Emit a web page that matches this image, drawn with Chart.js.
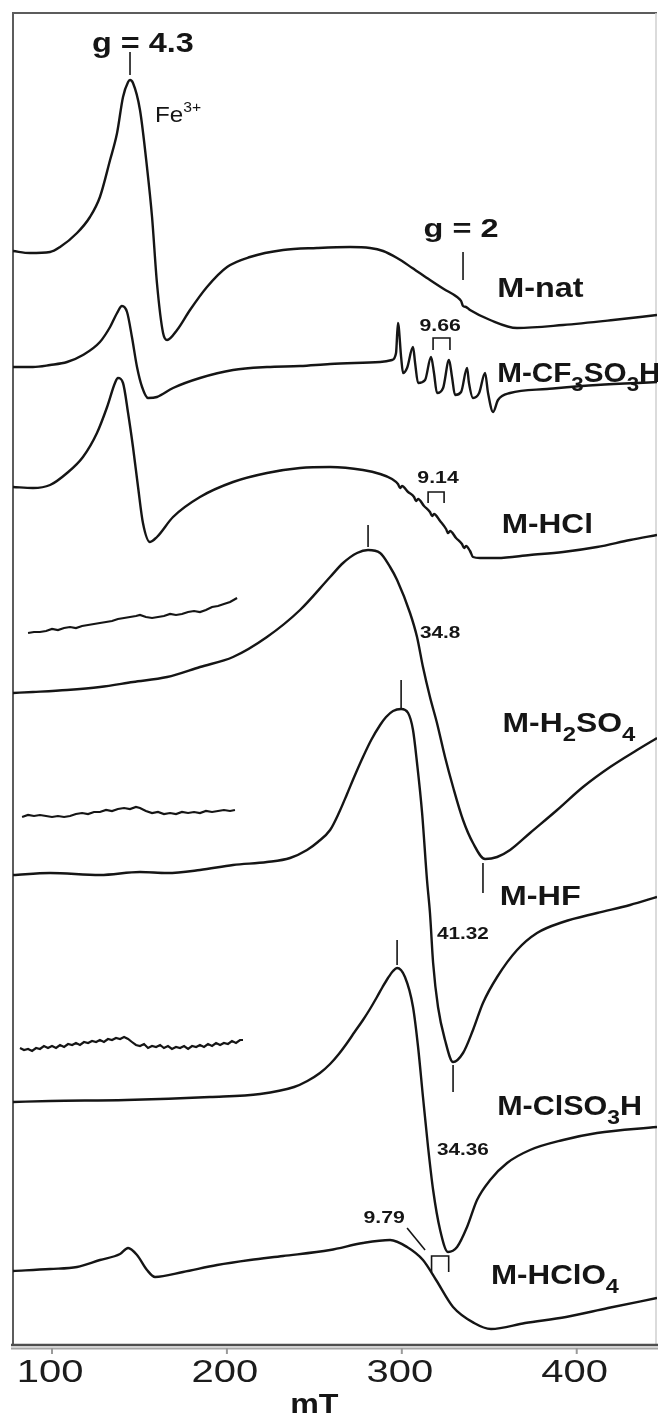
<!DOCTYPE html>
<html>
<head>
<meta charset="utf-8">
<title>EPR spectra of treated M samples</title>
<script src="https://cdn.jsdelivr.net/npm/chart.js@4.4.1/dist/chart.umd.min.js"></script>
<style>
  html, body { margin: 0; padding: 0; background: #fff; }
  #wrap { width: 658px; height: 1423px; position: relative; }
</style>
</head>
<body>
<div id="wrap"><canvas id="epr"></canvas></div>
<script>
/* Stacked EPR derivative spectra, field in mT, signal in offset units
   (each trace already carries its own vertical offset). */

// M-nat
const natField  = [77.7, 87.4, 98.9, 104.6, 114.3, 121.7, 127.4, 133.2, 137.2, 140.6, 143.5, 144.6, 146.3, 150.3, 154.3, 157.2, 160.0, 163.5, 165.8, 171.5, 178.9, 188.6, 200.1, 213.2, 232.1, 251.5, 270.4, 281.8, 289.3, 297.3, 306.0, 316.1, 324.0, 331.6, 333.9, 335.0, 336.7, 339.0, 350.5, 365.9, 392.2, 420.8, 445.9];
const natSignal = [1094, 1092, 1093, 1098, 1112, 1128, 1148, 1185, 1212, 1248, 1263, 1265, 1262, 1235, 1178, 1128, 1062, 1012, 1005, 1015, 1035, 1058, 1078, 1088, 1095, 1097, 1098, 1097, 1094, 1087, 1077, 1065, 1056, 1048, 1044, 1039, 1038, 1035, 1025, 1017, 1020, 1025, 1030];

// M-CF3SO3H (Mn2+ sextet on the right)
const triflField  = [77.7, 89.1, 98.9, 108.6, 117.7, 127.4, 133.2, 137.2, 140.0, 142.9, 145.7, 148.6, 151.5, 154.9, 160.0, 169.2, 184.6, 203.5, 222.9, 241.8, 259.0, 287.6, 294.4, 296.7, 297.8, 299.6, 300.7, 303.0, 306.4, 307.6, 309.3, 313.3, 316.7, 318.4, 320.1, 323.6, 327.0, 328.7, 330.4, 333.9, 337.3, 338.4, 340.7, 344.2, 347.6, 349.3, 352.2, 355.0, 361.9, 383.0, 411.6, 445.9];
const triflSignal = [978, 978, 980, 983, 990, 1003, 1018, 1032, 1039, 1033, 1008, 978, 958, 947, 948, 957, 967, 975, 978, 979, 981, 983, 985, 992, 1022, 988, 972, 977, 998, 982, 962, 965, 988, 972, 952, 957, 985, 968, 950, 953, 977, 962, 947, 952, 972, 952, 933, 945, 952, 956, 960, 963];

// M-HCl
const hclField  = [77.7, 89.1, 98.9, 108.6, 117.7, 125.7, 131.5, 136.0, 137.7, 140.6, 143.5, 146.3, 149.2, 152.0, 156.0, 160.0, 169.2, 184.6, 203.5, 222.9, 241.8, 259.0, 277.8, 287.6, 294.4, 297.8, 299.0, 300.1, 303.6, 307.0, 308.1, 309.3, 312.7, 316.1, 317.3, 318.4, 321.9, 325.3, 326.4, 327.6, 331.0, 334.4, 335.6, 336.7, 339.0, 340.7, 344.7, 354.5, 373.3, 392.2, 411.6, 430.5, 445.9];
const hclSignal = [858, 857, 860, 872, 888, 912, 938, 962, 967, 962, 932, 898, 858, 822, 803, 808, 828, 848, 863, 872, 877, 878, 875, 871, 866, 861, 857, 859, 853, 848, 844, 846, 839, 833, 829, 831, 824, 816, 812, 814, 807, 801, 797, 799, 794, 788, 787, 787, 790, 793, 798, 805, 810];

// low-field segment recorded at higher gain, M-H2SO4
const sulfNoiseField  = [86.3, 89.7, 93.1, 96.6, 100.0, 103.4, 106.9, 110.3, 113.7, 117.2, 120.6, 124.0, 127.4, 130.9, 134.3, 137.7, 141.2, 144.6, 148.0, 150.3, 153.7, 157.2, 160.6, 164.0, 167.5, 170.9, 174.3, 177.8, 181.2, 184.6, 188.0, 191.5, 194.9, 198.3, 201.8, 205.8];
const sulfNoiseSignal = [712, 713, 713, 714, 716, 715, 717, 718, 717, 719, 720, 721, 722, 723, 724, 726, 727, 728, 729, 730, 728, 727, 728, 729, 731, 730, 731, 733, 734, 733, 735, 738, 739, 741, 743, 747];

// M-H2SO4
const sulfField  = [77.7, 89.1, 108.6, 127.4, 146.3, 165.8, 184.6, 203.5, 222.9, 241.8, 259.0, 266.4, 274.4, 280.7, 287.6, 293.3, 297.3, 304.7, 308.7, 312.1, 316.1, 320.1, 324.7, 329.3, 335.0, 340.7, 347.6, 354.5, 361.9, 373.3, 388.8, 403.6, 419.1, 434.5, 445.9];
const sulfSignal = [652, 653, 655, 658, 663, 668, 678, 688, 708, 735, 768, 782, 792, 795, 792, 778, 765, 732, 708, 678, 648, 622, 588, 558, 525, 502, 486, 488, 495, 512, 535, 558, 578, 595, 607];

// low-field segment, M-HF
const hfNoiseField  = [82.9, 86.3, 89.7, 93.1, 96.6, 100.0, 103.4, 106.9, 110.3, 113.7, 117.2, 120.6, 124.0, 127.4, 130.9, 134.3, 137.7, 141.2, 144.6, 148.0, 150.3, 153.7, 157.2, 160.6, 164.0, 167.5, 170.9, 174.3, 177.8, 181.2, 184.6, 188.0, 191.5, 194.9, 198.3, 201.8, 204.6];
const hfNoiseSignal = [528, 530, 529, 530, 529, 528, 529, 528, 529, 531, 532, 531, 533, 533, 535, 534, 536, 537, 536, 538, 537, 534, 532, 533, 531, 532, 531, 533, 532, 533, 532, 534, 533, 534, 535, 534, 535];

// M-HF
const hfField  = [77.7, 98.9, 127.4, 150.3, 165.8, 184.6, 203.5, 222.9, 236.1, 245.8, 252.0, 259.0, 264.0, 268.7, 273.0, 277.8, 282.5, 287.6, 291.0, 295.0, 299.6, 303.6, 306.4, 308.7, 311.6, 314.4, 316.1, 317.9, 320.7, 324.7, 329.3, 335.0, 340.7, 346.4, 354.5, 365.9, 377.3, 392.2, 411.6, 430.5, 445.9];
const hfSignal = [470, 472, 470, 473, 472, 475, 480, 483, 487, 495, 503, 515, 532, 551, 569, 588, 605, 620, 628, 634, 636, 632, 615, 582, 532, 465, 432, 382, 338, 305, 283, 292, 315, 342, 368, 395, 412, 423, 432, 440, 448];

// low-field segment, M-ClSO3H
const clsNoiseField  = [81.7, 84.0, 86.3, 88.6, 90.9, 93.1, 95.4, 97.7, 100.0, 102.3, 104.6, 106.9, 109.2, 111.5, 113.7, 116.0, 118.3, 120.6, 122.9, 125.2, 127.4, 129.7, 132.0, 134.3, 136.6, 138.9, 141.2, 143.5, 145.7, 148.0, 150.3, 152.6, 154.9, 157.2, 159.5, 161.8, 164.0, 166.3, 168.6, 170.9, 173.2, 175.5, 177.8, 180.1, 182.4, 184.6, 186.9, 189.2, 191.5, 193.8, 196.1, 198.3, 200.6, 202.9, 205.2, 207.5, 209.2];
const clsNoiseSignal = [297, 295, 296, 294, 297, 296, 299, 297, 299, 297, 300, 298, 301, 300, 302, 300, 303, 302, 304, 303, 305, 303, 306, 305, 307, 306, 308, 306, 303, 300, 299, 301, 297, 299, 298, 300, 297, 299, 296, 298, 297, 299, 296, 299, 298, 300, 298, 301, 299, 302, 300, 302, 301, 304, 302, 305, 305];

// M-ClSO3H
const clsField  = [77.7, 98.9, 142.3, 190.3, 219.0, 238.4, 246.0, 253.2, 259.0, 264.0, 268.7, 273.0, 277.8, 281.8, 285.8, 289.0, 292.1, 295.0, 297.3, 301.8, 306.4, 309.3, 312.1, 315.0, 317.9, 321.9, 326.4, 331.6, 337.3, 343.0, 350.5, 360.2, 373.3, 392.2, 411.6, 445.9];
const clsSignal = [243, 244, 245, 248, 251, 258, 264, 272, 281, 291, 302, 313, 325, 336, 348, 358, 367, 374, 377, 368, 338, 298, 248, 198, 155, 115, 93, 98, 118, 145, 165, 182, 195, 205, 212, 218];

// M-HClO4
const perField  = [77.7, 98.9, 114.3, 127.4, 138.9, 143.5, 148.6, 154.3, 158.9, 174.9, 194.4, 213.2, 232.1, 259.0, 277.8, 293.3, 303.0, 312.1, 319.6, 329.3, 341.3, 351.0, 370.5, 393.9, 417.9, 445.9];
const perSignal = [74, 76, 78, 85, 91, 97, 90, 75, 68, 73, 80, 85, 89, 95, 102, 105, 98, 85, 65, 38, 22, 16, 22, 28, 37, 47];

// axis
const fieldTicks = [100, 200, 300, 400];
const fieldMin = 77.7;
const fieldMax = 445.9;

// vertical markers at line positions (field, signal from, signal to)
const markerField = [144.6, 335.0, 280.7, 346.4, 299.6, 329.3, 297.3];
const markerFrom  = [1270, 1065, 798, 452, 637, 253, 380];
const markerTo    = [1293, 1093, 820, 482, 665, 280, 405];

// hyperfine splittings, bracket width = stated value
const splitText   = ['9.66', '9.14', '9.79'];
const splitValue  = [9.66, 9.14, 9.79];
const splitCenter = [322.7, 319.6, 321.9];
const splitTop    = [1007, 853, 89];
const splitDrop   = [12, 11, 16];

// linewidths written next to the broad lines
const widthText   = ['34.8', '41.32', '34.36'];
const widthField  = [310.4, 320.1, 320.1];
const widthSignal = [707, 406, 190];

const FONT = '"Liberation Sans", Arial, Helvetica, sans-serif';
const INK = '#151515';

function xy(field, signal) {
    return field.map((f, i) => ({ x: f, y: signal[i] }));
}

function trace(field, signal, smooth) {
    return {
        data: xy(field, signal),
        borderColor: INK,
        borderWidth: smooth ? 2.4 : 2.2,
        pointRadius: 0,
        fill: false,
        tension: smooth ? 0.4 : 0,
        cubicInterpolationMode: smooth ? 'monotone' : 'default'
    };
}

// text with sub/superscripts, stretched horizontally by sx
function richText(ctx, parts, x, y, o) {
    const size = o.size;
    const weight = o.bold ? 'bold ' : '';
    const small = size * (o.subScale || 0.8);
    ctx.save();
    ctx.translate(x, y);
    ctx.scale(o.sx || 1, 1);
    ctx.fillStyle = o.color || INK;
    ctx.textAlign = 'left';
    ctx.textBaseline = 'alphabetic';
    let w = 0;
    parts.forEach(([t, k]) => {
        ctx.font = weight + (k ? small : size) + 'px ' + FONT;
        w += ctx.measureText(t).width;
    });
    let cx = o.align === 'center' ? -w / 2 : 0;
    parts.forEach(([t, k]) => {
        ctx.font = weight + (k ? small : size) + 'px ' + FONT;
        const dy = k === 1 ? size * 0.34 : (k === 2 ? -size * 0.45 : 0);
        ctx.fillText(t, cx, dy);
        cx += ctx.measureText(t).width;
    });
    ctx.restore();
}

function seg(ctx, x0, y0, x1, y1) {
    ctx.beginPath();
    ctx.moveTo(x0, y0);
    ctx.lineTo(x1, y1);
    ctx.stroke();
}

const sampleLabels = [
    { parts: [['M-nat', 0]], field: 354.5, signal: 1048, sx: 1.2 },
    { parts: [['M-CF', 0], ['3', 1], ['SO', 0], ['3', 1], ['H', 0]], field: 354.5, signal: 963, sx: 1.1 },
    { parts: [['M-HCl', 0]], field: 357.1, signal: 812, sx: 1.17 },
    { parts: [['M-H', 0], ['2', 1], ['SO', 0], ['4', 1]], field: 357.6, signal: 613, sx: 1.18 },
    { parts: [['M-HF', 0]], field: 356.0, signal: 440, sx: 1.2 },
    { parts: [['M-ClSO', 0], ['3', 1], ['H', 0]], field: 354.5, signal: 230, sx: 1.13 },
    { parts: [['M-HClO', 0], ['4', 1]], field: 351.0, signal: 61, sx: 1.16 }
];

const decor = {
    id: 'eprDecor',
    beforeDatasetsDraw(chart) {
        const { ctx, chartArea: a, scales: { x } } = chart;
        ctx.save();
        ctx.lineCap = 'butt';
        // frame
        ctx.strokeStyle = '#5c5c5c';
        ctx.lineWidth = 2;
        ctx.beginPath();
        ctx.moveTo(a.left, a.bottom);
        ctx.lineTo(a.left, a.top);
        ctx.lineTo(a.right, a.top);
        ctx.stroke();
        ctx.strokeStyle = '#cfcfcf';
        ctx.lineWidth = 1.5;
        seg(ctx, a.right - 1, a.top, a.right - 1, a.bottom);
        // doubled base line
        ctx.strokeStyle = '#4e4e4e';
        ctx.lineWidth = 2.5;
        seg(ctx, a.left - 2, a.bottom, a.right + 1, a.bottom);
        ctx.strokeStyle = '#a6a6a6';
        ctx.lineWidth = 2;
        seg(ctx, a.left - 2, a.bottom + 3.5, a.right + 1, a.bottom + 3.5);
        // ticks and labels
        fieldTicks.forEach(v => {
            const px = x.getPixelForValue(v);
            ctx.strokeStyle = '#9a9a9a';
            ctx.lineWidth = 2;
            seg(ctx, px, a.bottom + 3, px, a.bottom + 9);
            richText(ctx, [[String(v), 0]], px - 2, a.bottom + 37,
                { size: 32, sx: 1.25, align: 'center', color: '#1c1c1c' });
        });
        richText(ctx, [['mT', 0]], x.getPixelForValue(250), a.bottom + 68,
            { size: 28, bold: true, sx: 1.15, align: 'center' });
        ctx.restore();
    },
    afterDatasetsDraw(chart) {
        const { ctx, scales: { x, y } } = chart;
        ctx.save();
        ctx.strokeStyle = INK;
        ctx.lineWidth = 1.6;

        markerField.forEach((f, i) => {
            const px = x.getPixelForValue(f);
            seg(ctx, px, y.getPixelForValue(markerFrom[i]), px, y.getPixelForValue(markerTo[i]));
        });

        splitText.forEach((t, i) => {
            const x0 = x.getPixelForValue(splitCenter[i] - splitValue[i] / 2);
            const x1 = x.getPixelForValue(splitCenter[i] + splitValue[i] / 2);
            const yt = y.getPixelForValue(splitTop[i]);
            const yb = y.getPixelForValue(splitTop[i] - splitDrop[i]);
            ctx.beginPath();
            ctx.moveTo(x0, yb);
            ctx.lineTo(x0, yt);
            ctx.lineTo(x1, yt);
            ctx.lineTo(x1, yb);
            ctx.stroke();
        });

        // splitting values
        richText(ctx, [['9.66', 0]], x.getPixelForValue(321.9), y.getPixelForValue(1014),
            { size: 17, bold: true, sx: 1.25, align: 'center' });
        richText(ctx, [['9.14', 0]], x.getPixelForValue(320.7), y.getPixelForValue(862),
            { size: 17, bold: true, sx: 1.25, align: 'center' });
        richText(ctx, [['9.79', 0]], x.getPixelForValue(289.9), y.getPixelForValue(122),
            { size: 17, bold: true, sx: 1.25, align: 'center' });
        seg(ctx, x.getPixelForValue(303.0), y.getPixelForValue(117),
            x.getPixelForValue(313.3), y.getPixelForValue(95));

        widthText.forEach((t, i) => {
            richText(ctx, [[t, 0]], x.getPixelForValue(widthField[i]), y.getPixelForValue(widthSignal[i]),
                { size: 17, bold: true, sx: 1.22 });
        });

        // g-factor and Fe3+ annotations
        richText(ctx, [['g = 4.3', 0]], x.getPixelForValue(152.0), y.getPixelForValue(1293),
            { size: 27, bold: true, sx: 1.2, align: 'center' });
        richText(ctx, [['g = 2', 0]], x.getPixelForValue(333.9), y.getPixelForValue(1108),
            { size: 25, bold: true, sx: 1.3, align: 'center' });
        richText(ctx, [['Fe', 0], ['3+', 2]], x.getPixelForValue(158.9), y.getPixelForValue(1223),
            { size: 22, sx: 1.1, subScale: 0.65 });

        sampleLabels.forEach(l => {
            richText(ctx, l.parts, x.getPixelForValue(l.field), y.getPixelForValue(l.signal),
                { size: 27, bold: true, sx: l.sx, subScale: 0.75 });
        });
        ctx.restore();
    }
};

new Chart(document.getElementById('epr'), {
    type: 'line',
    data: {
        datasets: [
            trace(natField, natSignal, true),
            trace(triflField, triflSignal, true),
            trace(hclField, hclSignal, true),
            trace(sulfNoiseField, sulfNoiseSignal, false),
            trace(sulfField, sulfSignal, true),
            trace(hfNoiseField, hfNoiseSignal, false),
            trace(hfField, hfSignal, true),
            trace(clsNoiseField, clsNoiseSignal, false),
            trace(clsField, clsSignal, true),
            trace(perField, perSignal, true)
        ]
    },
    options: {
        responsive: true,
        maintainAspectRatio: false,
        animation: false,
        layout: { padding: { left: 13, right: 1, top: 13, bottom: 78 } },
        plugins: { legend: { display: false }, tooltip: { enabled: false } },
        scales: {
            x: { type: 'linear', min: fieldMin, max: fieldMax, display: false },
            y: { type: 'linear', min: 0, max: 1332, display: false }
        }
    },
    plugins: [decor]
});
</script>
</body>
</html>
